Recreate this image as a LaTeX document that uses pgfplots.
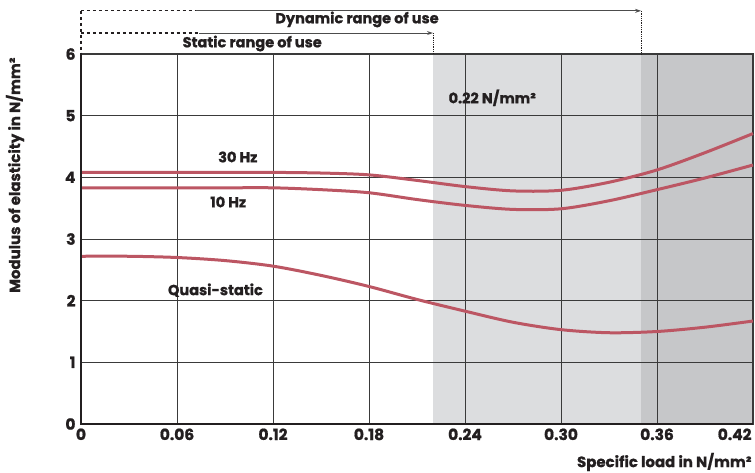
\documentclass[border=0pt]{standalone}
\usepackage{fontspec}
\setmainfont{Poppins}[BoldFeatures={FakeBold=1}]
\usepackage{pgfplots}
\pgfplotsset{compat=1.18}
\usetikzlibrary{arrows.meta}

\definecolor{curve}{HTML}{BC5663}
\definecolor{shadeA}{HTML}{DCDDDF}
\definecolor{shadeB}{HTML}{C6C7C9}
\definecolor{gridc}{HTML}{3A3A3A}
\definecolor{ink}{HTML}{231F20}

\begin{document}
\begin{tikzpicture}[font=\bfseries]
\begin{axis}[
    set layers,
    scale only axis,
    width=672bp, height=370bp,
    xmin=0, xmax=0.42, ymin=0, ymax=6,
    xtick={0,0.06,...,0.36},
    xticklabels={0,0.06,0.12,0.18,0.24,0.30,0.36},
    extra x ticks={0.42},
    extra x tick labels={0.42},
    extra x tick style={xticklabel style={anchor=north east, xshift=2pt}},
    ytick={0,1,...,6},
    major tick length=0pt,
    grid=major,
    major grid style={gridc, line width=0.9pt},
    axis line style={gridc, line width=1.2pt},
    ticklabel style={font=\bfseries\fontsize{15.5}{17}\selectfont, text=ink},
    /pgf/number format/assume math mode=true,
    xticklabel style={yshift=-1pt},
    yticklabel style={xshift=-2pt},
    clip=false,
]
% shaded load ranges
\addplot[fill=shadeA, draw=none, on layer=axis background] coordinates {(0.22,0) (0.35,0) (0.35,6) (0.22,6)} -- cycle;
\addplot[fill=shadeB, draw=none, on layer=axis background] coordinates {(0.35,0) (0.42,0) (0.42,6) (0.35,6)} -- cycle;

% 30 Hz
\addplot[curve, line width=3bp, smooth] coordinates {
(0,4.08) (0.03,4.08) (0.06,4.08) (0.09,4.08) (0.12,4.08) (0.15,4.07) (0.18,4.04)
(0.21,3.95) (0.24,3.85) (0.27,3.78) (0.30,3.79) (0.33,3.92) (0.36,4.12)
(0.39,4.40) (0.42,4.71)};
% 10 Hz
\addplot[curve, line width=3bp, smooth] coordinates {
(0,3.83) (0.03,3.83) (0.06,3.83) (0.09,3.83) (0.12,3.83) (0.15,3.80) (0.18,3.75)
(0.21,3.64) (0.24,3.545) (0.27,3.48) (0.30,3.49) (0.33,3.62) (0.36,3.80)
(0.39,3.99) (0.42,4.20)};
% quasi-static
\addplot[curve, line width=3bp, smooth] coordinates {
(0,2.72) (0.03,2.72) (0.06,2.70) (0.09,2.65) (0.12,2.56) (0.15,2.41) (0.18,2.23)
(0.21,2.02) (0.24,1.83) (0.27,1.65) (0.30,1.53) (0.33,1.48) (0.36,1.50) (0.39,1.57) (0.42,1.67)};

% axis lines on the left and bottom are heavier
\draw[ink, line width=2.5bp] (rel axis cs:0,1) -- (rel axis cs:0,0) -- (rel axis cs:1,0);

% range-of-use arrows
\draw[ink, line width=1.2pt, dashed] (axis cs:0,6.70) -- (axis cs:0,6);
\draw[ink, line width=1.2pt, dashed] (axis cs:0,6.70) -- (axis cs:0.072,6.70);
\draw[black!70, line width=1pt, -{Stealth[length=6pt,width=4pt]}] (axis cs:0.072,6.70) -- (axis cs:0.35,6.70);
\draw[ink, line width=0.8pt, densely dotted] (axis cs:0.35,6.70) -- (axis cs:0.35,6);
\draw[ink, line width=1.2pt, dashed] (axis cs:0,6.34) -- (axis cs:0.074,6.34);
\draw[black!70, line width=1pt, -{Stealth[length=6pt,width=4pt]}] (axis cs:0.074,6.34) -- (axis cs:0.22,6.34);
\draw[ink, line width=0.8pt, densely dotted] (axis cs:0.22,6.34) -- (axis cs:0.22,6);

\node[font=\bfseries\fontsize{14.6}{16}\selectfont, text=ink] at (axis cs:0.1725,6.56) {Dynamic range of use};
\node[font=\bfseries\fontsize{14.6}{16}\selectfont, text=ink] at (axis cs:0.107,6.17) {Static range of use};
\node[font=\bfseries\fontsize{14.6}{16}\selectfont, text=ink] at (axis cs:0.257,5.29) {0.22 N/mm²};
\node[font=\bfseries\fontsize{14.6}{16}\selectfont, text=ink] at (axis cs:0.098,4.33) {30 Hz};
\node[font=\bfseries\fontsize{14.6}{16}\selectfont, text=ink] at (axis cs:0.092,3.60) {10 Hz};
\node[font=\bfseries\fontsize{14.6}{16}\selectfont, text=ink] at (axis cs:0.084,2.17) {Quasi-static};

% axis titles
\node[font=\bfseries\fontsize{15}{17}\selectfont, text=ink, rotate=90, anchor=east]
  at ([xshift=-66bp]rel axis cs:0,1) {Modulus of elasticity in N/mm²};
\node[font=\bfseries\fontsize{15}{17}\selectfont, text=ink, anchor=east]
  at ([yshift=-38bp, xshift=2bp]rel axis cs:1,0) {Specific load in N/mm²};
\end{axis}
\pgfresetboundingbox
\path ([xshift=-81bp,yshift=-48bp]current axis.south west) rectangle ([xshift=2bp,yshift=54bp]current axis.north east);
\end{tikzpicture}
\end{document}
